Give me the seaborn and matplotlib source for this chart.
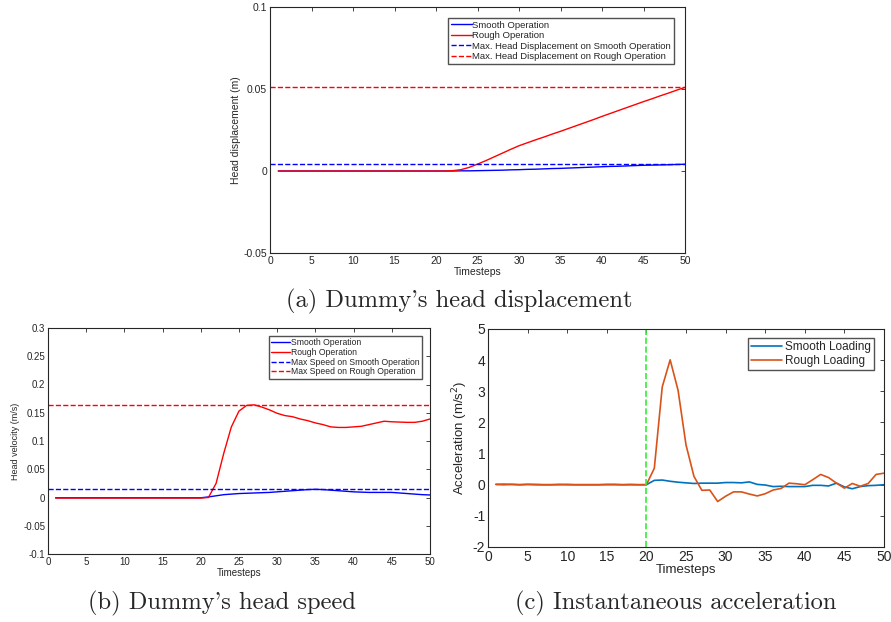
import numpy as np
import pandas as pd
import seaborn as sns
import matplotlib.pyplot as plt

# Data
timesteps = list(range(1, 51))

disp_smooth = [0.0] * 21 + [0.0000, 0.0001, 0.0001, 0.0002, 0.0003, 0.0004, 0.0005, 0.0007,
                             0.0008, 0.0010, 0.0011, 0.0013, 0.0015, 0.0016, 0.0018, 0.0020,
                             0.0022, 0.0024, 0.0026, 0.0028, 0.0029, 0.0031, 0.0033, 0.0035,
                             0.0036, 0.0037, 0.0038, 0.0040, 0.0041]
disp_rough = [0.0] * 21 + [0.0002, 0.0008, 0.0022, 0.0042, 0.0063, 0.0086, 0.0109, 0.0132,
                            0.0154, 0.0172, 0.0190, 0.0207, 0.0225, 0.0242, 0.0260, 0.0278,
                            0.0296, 0.0314, 0.0333, 0.0351, 0.0369, 0.0387, 0.0405, 0.0423,
                            0.0440, 0.0458, 0.0475, 0.0493, 0.0510]
disp_max_smooth = 0.0041
disp_max_rough = 0.0510

vel_smooth = [-0.0005] * 20 + [0.001, 0.003, 0.005, 0.006, 0.007, 0.0075, 0.008, 0.0085, 0.009,
                               0.010, 0.011, 0.012, 0.013, 0.014, 0.0145, 0.014, 0.013, 0.012,
                               0.011, 0.010, 0.0095, 0.009, 0.009, 0.009, 0.009, 0.008, 0.007,
                               0.006, 0.005, 0.0045]
vel_rough = [-0.001] * 20 + [0.0, 0.025, 0.078, 0.125, 0.153, 0.163, 0.164, 0.160, 0.155,
                             0.149, 0.145, 0.143, 0.139, 0.136, 0.132, 0.129, 0.125, 0.124,
                             0.124, 0.125, 0.126, 0.129, 0.132, 0.135, 0.134, 0.1335, 0.133,
                             0.133, 0.135, 0.139]
vel_max_smooth = 0.0147
vel_max_rough = 0.1635

acc_smooth = [0.01, 0.0, 0.01, 0.0, 0.01, 0.0, 0.0, 0.0, 0.01, 0.0, 0.0, 0.0, 0.0, 0.0, 0.01,
              0.01, 0.0, 0.0, 0.0, 0.0, 0.14, 0.15, 0.11, 0.08, 0.06, 0.04, 0.05, 0.05, 0.05,
              0.07, 0.07, 0.06, 0.09, 0.01, -0.01, -0.06, -0.05, -0.06, -0.06, -0.06, -0.02,
              -0.02, -0.04, 0.05, -0.07, -0.13, -0.06, -0.03, -0.02, 0.0]
acc_rough = [0.01, 0.02, 0.01, 0.0, 0.01, 0.01, 0.0, 0.0, 0.0, 0.01, 0.0, 0.0, 0.0, 0.0, 0.0,
             0.0, 0.0, 0.01, 0.0, 0.0, 0.53, 3.14, 4.01, 3.03, 1.28, 0.27, -0.18, -0.17, -0.54,
             -0.37, -0.23, -0.23, -0.30, -0.36, -0.29, -0.17, -0.12, 0.05, 0.03, 0.0, 0.16,
             0.33, 0.23, 0.05, -0.11, 0.04, -0.05, 0.04, 0.33, 0.37]
impact_step = 20

sns.set_style('white')
plt.rcParams['font.family'] = ['Liberation Sans', 'DejaVu Sans']
plt.rcParams['axes.unicode_minus'] = False
plt.rcParams['axes.edgecolor'] = '#262626'
plt.rcParams['xtick.color'] = '#262626'
plt.rcParams['ytick.color'] = '#262626'
plt.rcParams['axes.linewidth'] = 0.8

fig = plt.figure(figsize=(8.91, 6.22), dpi=100)
W, H = 891, 622


def add_ax(l, t, r, b):
    return fig.add_axes([l / W, 1 - b / H, (r - l) / W, (b - t) / H])


def style_ax(ax, fs):
    ax.tick_params(direction='in', top=True, right=True, length=3, width=0.6,
                   labelsize=fs, pad=2)
    for s in ax.spines.values():
        s.set_visible(True)
        s.set_color('#262626')


# (a) head displacement
ax1 = add_ax(270, 7, 685, 253)
df1 = pd.DataFrame({'t': timesteps, 's': disp_smooth, 'r': disp_rough})
sns.lineplot(data=df1, x='t', y='s', ax=ax1, color='#0000ff', lw=1, label='Smooth Operation')
sns.lineplot(data=df1, x='t', y='r', ax=ax1, color='#ff0000', lw=1, label='Rough Operation')
ax1.axhline(disp_max_smooth, color='#0000ff', ls='--', lw=1,
            label='Max. Head Displacement on Smooth Operation')
ax1.axhline(disp_max_rough, color='#ff0000', ls='--', lw=1,
            label='Max. Head Displacement on Rough Operation')
ax1.set_xlim(0, 50)
ax1.set_ylim(-0.05, 0.1)
ax1.set_xticks(range(0, 51, 5))
ax1.set_yticks([-0.05, 0, 0.05, 0.1])
ax1.set_yticklabels(['-0.05', '0', '0.05', '0.1'])
ax1.set_xlabel('Timesteps', fontsize=7.5, labelpad=1)
ax1.set_ylabel('Head displacement (m)', fontsize=7.5, labelpad=2)
style_ax(ax1, 7.5)
ax1.legend(loc='upper right', fontsize=6.8, frameon=True, fancybox=False, edgecolor='#262626',
           handlelength=2.2, handletextpad=0.1, borderpad=0.3, labelspacing=0.15,
           bbox_to_anchor=(0.985, 0.975))

# (b) head speed
ax2 = add_ax(48, 328, 430, 554)
df2 = pd.DataFrame({'t': timesteps, 's': vel_smooth, 'r': vel_rough})
sns.lineplot(data=df2, x='t', y='s', ax=ax2, color='#0000ff', lw=1, label='Smooth Operation')
sns.lineplot(data=df2, x='t', y='r', ax=ax2, color='#ff0000', lw=1, label='Rough Operation')
ax2.axhline(vel_max_smooth, color='#0000ff', ls='--', lw=1,
            label='Max Speed on Smooth Operation')
ax2.axhline(vel_max_rough, color='#ff0000', ls='--', lw=1,
            label='Max Speed on Rough Operation')
ax2.set_xlim(0, 50)
ax2.set_ylim(-0.1, 0.3)
ax2.set_xticks(range(0, 51, 5))
ax2.set_yticks([-0.1, -0.05, 0, 0.05, 0.1, 0.15, 0.2, 0.25, 0.3])
ax2.set_yticklabels(['-0.1', '-0.05', '0', '0.05', '0.1', '0.15', '0.2', '0.25', '0.3'])
ax2.set_xlabel('Timesteps', fontsize=7, labelpad=1)
ax2.set_ylabel('Head velocity (m/s)', fontsize=6.5, labelpad=2)
style_ax(ax2, 7)
ax2.legend(loc='upper right', fontsize=6.2, frameon=True, fancybox=False, edgecolor='#262626',
           handlelength=2.2, handletextpad=0.1, borderpad=0.25, labelspacing=0.1,
           bbox_to_anchor=(0.99, 0.985))

# (c) instantaneous acceleration
ax3 = add_ax(488, 329, 884, 547)
df3 = pd.DataFrame({'t': timesteps, 's': acc_smooth, 'r': acc_rough})
sns.lineplot(data=df3, x='t', y='s', ax=ax3, color='#0072BD', lw=1.2, label='Smooth Loading')
sns.lineplot(data=df3, x='t', y='r', ax=ax3, color='#D95319', lw=1.2, label='Rough Loading')
ax3.axvline(impact_step, color='#33ee33', ls='--', lw=1.2)
ax3.set_xlim(0, 50)
ax3.set_ylim(-2, 5)
ax3.set_xticks(range(0, 51, 5))
ax3.set_yticks(range(-2, 6))
ax3.set_xlabel('Timesteps', fontsize=9.5, labelpad=0)
ax3.set_ylabel('Acceleration (m/s$^2$)', fontsize=9.5, labelpad=2)
style_ax(ax3, 10)
ax3.legend(loc='upper right', fontsize=8.5, frameon=True, fancybox=False, edgecolor='#262626',
           handlelength=2.6, handletextpad=0.3, borderpad=0.25, labelspacing=0.15,
           bbox_to_anchor=(0.99, 0.985))

# captions
cap = dict(fontsize=17.6, family='cmr10', ha='center', va='center')
fig.text(459 / W, 1 - 301 / H, "(a) Dummy's head displacement", **cap)
fig.text(222 / W, 1 - 603 / H, "(b) Dummy's head speed", **cap)
fig.text(676 / W, 1 - 603 / H, "(c) Instantaneous acceleration", **cap)

fig.savefig('out.png', dpi=100)
